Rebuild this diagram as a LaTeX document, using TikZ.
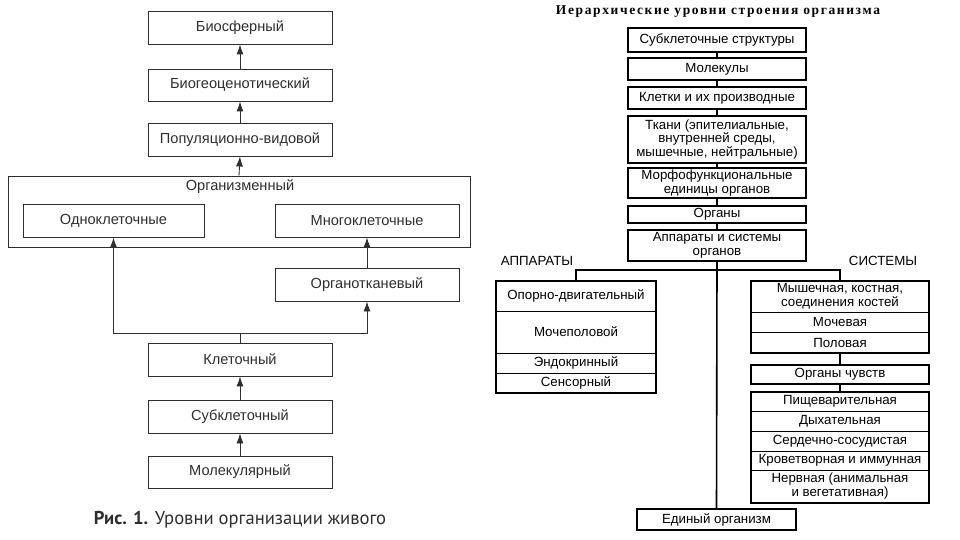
\documentclass[tikz,border=0pt]{standalone}
\usepackage{fontspec}
\setmainfont{Liberation Sans}
\newfontfamily\capfont{PT Sans}
\newfontfamily\titlefont[LetterSpace=12]{Liberation Serif}
\usetikzlibrary{arrows.meta,positioning}
\definecolor{lgray}{HTML}{2E2E2E}
\tikzset{
  lbox/.style={draw=lgray, line width=0.9pt, inner sep=0pt, text=lgray,
    font=\fontsize{14.6}{16}\selectfont, align=center},
  rbox/.style={draw=black, line width=1.6pt, inner sep=0pt, text=black,
    font=\fontsize{13.3}{13.9}\selectfont, align=center},
  rcell/.style={draw=black, line width=1pt, inner sep=0pt, text=black,
    font=\fontsize{13.3}{13.9}\selectfont, align=center},
  up/.style={draw=lgray, line width=0.9pt, -{Latex[length=10pt,width=7pt]}},
  link/.style={draw=black, line width=1.6pt},
}
\newcommand{\bx}[6]{\node[#1, minimum width=#4pt, minimum height=#5pt] (#2) at (#3) {#6};}
\begin{document}
\begin{tikzpicture}[x=1pt,y=-1pt]
\useasboundingbox (0,0) rectangle (960,540);
% ---------- left diagram ----------
\bx{lbox}{bio}{240,27.5}{184}{33}{Биосферный}
\bx{lbox}{biogeo}{240,85}{184}{32}{Биогеоценотический}
\bx{lbox}{pop}{240,139.5}{184}{33}{Популяционно-видовой}
\bx{lbox}{org}{239,211.5}{462}{71}{}
\node[text=lgray, font=\fontsize{14.6}{16}\selectfont] (orglab) at (240,187) {Организменный};
\bx{lbox}{odno}{113.5,220.5}{181}{33}{Одноклеточные}
\bx{lbox}{mnogo}{367,220.5}{184}{33}{Многоклеточные}
\bx{lbox}{orgtk}{367,284.5}{184}{33}{Органотканевый}
\bx{lbox}{klet}{240,359.5}{184}{33}{Клеточный}
\bx{lbox}{subkl}{240,416.5}{184}{33}{Субклеточный}
\bx{lbox}{mol}{240,472}{184}{32}{Молекулярный}
\coordinate (jl) at (240,333);
\draw[up] (mol.north) -- (subkl.south);
\draw[up] (subkl.north) -- (klet.south);
\draw[draw=lgray, line width=0.9pt] (klet.north) -- (jl);
\draw[up] (jl) -| (odno.south);
\draw[up] (jl) -| (orgtk.south);
\draw[up] (orgtk.north) -- (mnogo.south);
\draw[up] (org.north) -- (pop.south);
\draw[up] (pop.north) -- (biogeo.south);
\draw[up] (biogeo.north) -- (bio.south);
\node[text=lgray, font=\capfont\fontsize{18.6}{20}\selectfont] (cap) at (240,520) {\textbf{Рис. 1.} Уровни организации живого};
% ---------- right diagram ----------
\node[font=\titlefont\bfseries\fontsize{13.5}{14}\selectfont] (title) at (718,12) {Иерархические уровни строения организма};
\bx{rbox}{sub}{717,40}{178}{24}{Субклеточные структуры}
\bx{rbox}{molk}{717,69}{178}{22}{Молекулы}
\bx{rbox}{klk}{717,98}{178}{22}{Клетки и их производные}
\bx{rbox}{tk}{717,139.5}{178}{47}{Ткани (эпителиальные,\\внутренней среды,\\мышечные, нейтральные)}
\bx{rbox}{morph}{717,183}{178}{30}{Морфофункциональные\\единицы органов}
\bx{rbox}{organs}{717,214.5}{178}{17}{Органы}
\bx{rbox}{app}{717,245.5}{178}{31}{Аппараты и системы\\органов}
\bx{rbox}{edin}{716.5,519.5}{159}{21}{Единый организм}
\draw[link] (sub.south) -- (molk.north);
\draw[link] (molk.south) -- (klk.north);
\draw[link] (klk.south) -- (tk.north);
\draw[link] (tk.south) -- (morph.north);
\draw[link] (morph.south) -- (organs.north);
\draw[link] (organs.south) -- (app.north);
\draw[link] (app.south) -- (edin.north);
\node[font=\fontsize{13.3}{14}\selectfont] (lapp) at (537,261) {АППАРАТЫ};
\node[font=\fontsize{13.3}{14}\selectfont] (lsys) at (883,261) {СИСТЕМЫ};
% apparatus group
\bx{rcell}{ga1}{576,296}{160}{30}{Опорно-двигательный}
\bx{rcell}{ga2}{576,332}{160}{42}{Мочеполовой}
\bx{rcell}{ga3}{576,363}{160}{20}{Эндокринный}
\bx{rcell}{ga4}{576,383}{160}{20}{Сенсорный}
\draw[black, line width=1.8pt] (496,281) rectangle (656,393);
% systems group
\bx{rcell}{gs1}{840,296.5}{178}{31}{Мышечная, костная,\\соединения костей}
\bx{rcell}{gs2}{840,322}{178}{20}{Мочевая}
\bx{rcell}{gs3}{840,342.5}{178}{21}{Половая}
\draw[black, line width=1.8pt] (751,281) rectangle (929,353);
\bx{rbox}{gs4}{840,374.5}{178}{19}{Органы чувств}
\bx{rcell}{gs5}{840,401.5}{178}{19}{Пищеварительная}
\bx{rcell}{gs6}{840,421}{178}{20}{Дыхательная}
\bx{rcell}{gs7}{840,441}{178}{20}{Сердечно-сосудистая}
\bx{rcell}{gs8}{840,460.5}{178}{19}{Кроветворная и иммунная}
\bx{rcell}{gs9}{840,486.5}{178}{33}{Нервная (анимальная\\и вегетативная)}
\draw[black, line width=1.8pt] (751,392) rectangle (929,503);
\coordinate (jr) at (717,270);
\draw[link] (ga1.north) |- (jr) -| (gs1.north);
\draw[link] (gs3.south) -- (gs4.north);
\draw[link] (gs4.south) -- (gs5.north);
\end{tikzpicture}
\end{document}
